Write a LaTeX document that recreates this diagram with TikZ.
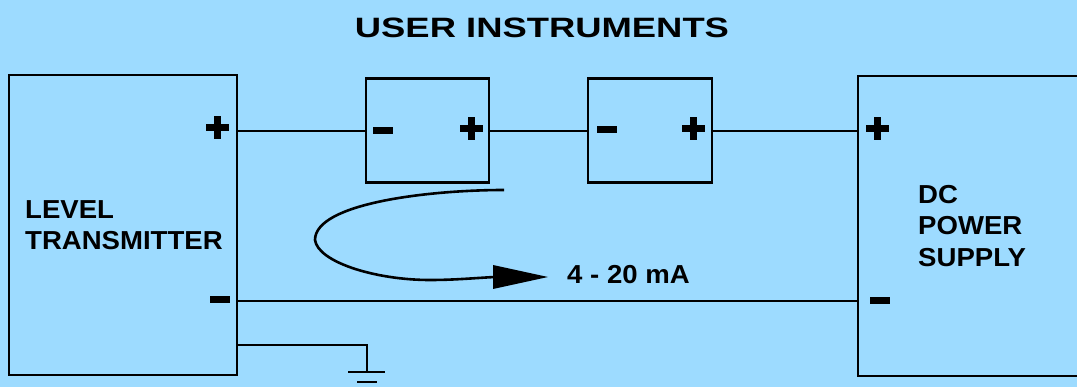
\documentclass[tikz,border=0pt]{standalone}
\usepackage{fontspec}
\setmainfont{Liberation Sans}
\definecolor{bgc}{RGB}{157,219,255}
\tikzset{
  x=1pt,y=-1pt,
  wire/.style={line width=2.6pt,draw=black},
  boxs/.style={draw=black,line width=2.6pt,fill=none,inner sep=0pt,anchor=center},
  lab/.style={font=\bfseries\fontsize{26}{31.3}\selectfont,align=left,anchor=west,inner sep=0pt,xscale=1.06},
  sign/.style={fill=black,inner sep=0pt}
}
\begin{document}
\begin{tikzpicture}
\useasboundingbox (0,0) rectangle (1077,387);
\fill[bgc] (0,0) rectangle (1077,387);
\node[boxs,minimum width=228pt,minimum height=300pt] (lt) at (123,225) {};
\node[boxs,minimum width=123pt,minimum height=104pt] (i1) at (427.5,130.7) {};
\node[boxs,minimum width=124pt,minimum height=104pt] (i2) at (650,130.7) {};
\node[boxs,minimum width=230pt,minimum height=300pt] (dc) at (973,226) {};
\node[font=\bfseries\fontsize{28}{34}\selectfont,inner sep=0pt,xscale=1.3] (title) at (542,27.5) {USER INSTRUMENTS};
\node[lab] (ltl) at (25,225) {LEVEL\\TRANSMITTER};
\node[lab] (dcl) at (918,226) {DC\\POWER\\SUPPLY};
\node[lab] (ma) at (567,275) {4 - 20 mA};
\foreach \n/\x/\y in {p1/217.5/127.5,p2/471.5/128.5,p3/693.5/128.5,p4/877.5/129}{
  \node[sign,minimum width=23pt,minimum height=7pt] (\n h) at (\x,\y) {};
  \node[sign,minimum width=7pt,minimum height=23pt] (\n v) at (\x,\y) {};
}
\foreach \n/\x/\y in {m1/219.5/300,m2/383/131,m3/607/129.5,m4/879.5/301}{
  \node[sign,minimum width=20pt,minimum height=7pt] (\n) at (\x,\y) {};
}
\coordinate (a1) at (237,131);
\coordinate (a2) at (366,131);
\coordinate (b1) at (489,131);
\coordinate (b2) at (588,131);
\coordinate (c1) at (712,131);
\coordinate (c2) at (858,131);
\coordinate (d1) at (237,301);
\coordinate (d2) at (858,301);
\coordinate (g1) at (237,345);
\coordinate (g2) at (367,345);
\coordinate (g3) at (367,372);
\draw[wire] (a1) -- (a2);
\draw[wire] (b1) -- (b2);
\draw[wire] (c1) -- (c2);
\draw[wire] (d1) -- (d2);
\draw[wire] (g1) -- (g2) -- (g3);
\draw[wire] (348,372) -- (385,372);
\draw[wire] (357,382) -- (377,382);
\coordinate (cs) at (504,190);
\coordinate (ce) at (495,277);
\draw[wire] (cs) .. controls (430,190) and (315,203) .. (315,240) .. controls (318,262) and (375,280) .. (430,280) .. controls (455,280) and (475,278) .. (ce);
\fill[black] (548,277) -- (493,265) -- (493,289) -- cycle;
\end{tikzpicture}
\end{document}
